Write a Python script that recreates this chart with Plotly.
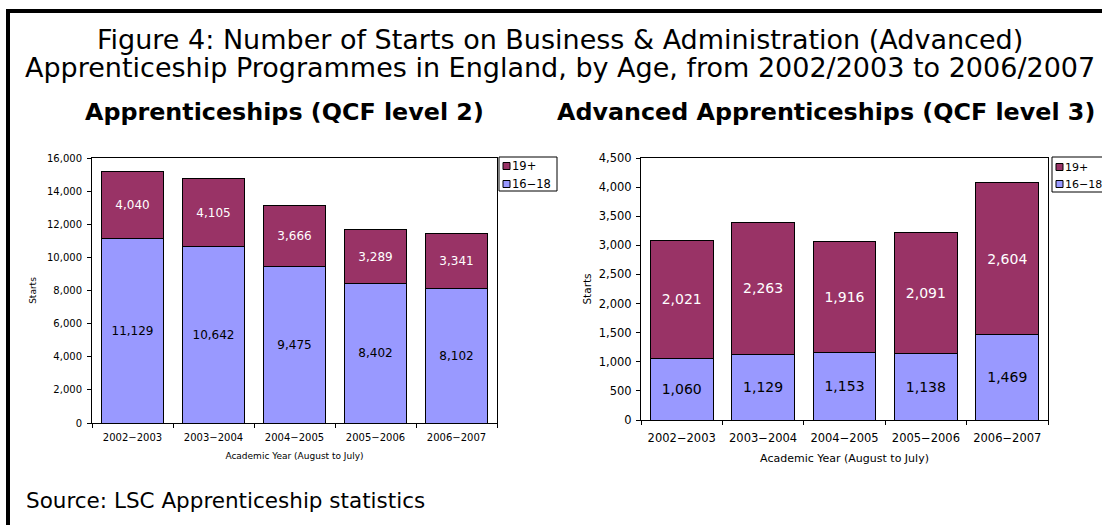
import plotly.graph_objects as go

years = ["2002\u22122003", "2003\u22122004", "2004\u22122005", "2005\u22122006", "2006\u22122007"]
l2_16_18 = [11129, 10642, 9475, 8402, 8102]
l2_19plus = [4040, 4105, 3666, 3289, 3341]
l3_16_18 = [1060, 1129, 1153, 1138, 1469]
l3_19plus = [2021, 2263, 1916, 2091, 2604]
legend_names = ["19+", "16\u221218"]

C_YOUNG = "#9999FF"
C_OLD = "#993366"
FONT = "DejaVu Sans"
W, H = 1102, 525

def fx(px):
    return px / W

def fy(py):
    return 1 - py / H

fig = go.Figure()

def add_pair(young, old, xa, ya, fs):
    fig.add_trace(go.Bar(
        x=years, y=young, name=legend_names[1], marker=dict(color=C_YOUNG, line=dict(color="black", width=1)),
        text=[f"{v:,}" for v in young], textposition="inside", insidetextanchor="middle",
        textfont=dict(color="black", size=fs, family=FONT), xaxis=xa, yaxis=ya,
        width=0.77, constraintext="none", showlegend=False))
    fig.add_trace(go.Bar(
        x=years, y=old, name=legend_names[0], marker=dict(color=C_OLD, line=dict(color="black", width=1)),
        text=[f"{v:,}" for v in old], textposition="inside", insidetextanchor="middle",
        textfont=dict(color="white", size=fs, family=FONT), xaxis=xa, yaxis=ya,
        width=0.77, constraintext="none", showlegend=False))

add_pair(l2_16_18, l2_19plus, "x", "y", 12)
add_pair(l3_16_18, l3_19plus, "x2", "y2", 14)

def axis_style(fs, standoff):
    return dict(showline=True, linecolor="black", linewidth=1, mirror=True,
                ticks="outside", ticklen=4, tickcolor="black",
                tickfont=dict(family=FONT, size=fs, color="black"), ticklabelstandoff=standoff,
                showgrid=False, zeroline=False)

fig.update_layout(
    width=W, height=H, margin=dict(l=0, r=0, t=0, b=0, autoexpand=False),
    paper_bgcolor="white", plot_bgcolor="white",
    barmode="stack", showlegend=False,
    xaxis=dict(domain=[fx(92), fx(497)], anchor="y", tickson="boundaries",
               title=dict(text="Academic Year (August to July)", font=dict(family=FONT, size=9, color="black"), standoff=10),
               **axis_style(10, 5)),
    yaxis=dict(domain=[fy(423), fy(158)], anchor="x", range=[0, 16000], dtick=2000, tickformat=",",
               title=dict(text="Starts", font=dict(family=FONT, size=9, color="black"), standoff=8),
               **axis_style(10, 3)),
    xaxis2=dict(domain=[fx(641), fx(1048)], anchor="y2", tickson="boundaries",
                title=dict(text="Academic Year (August to July)", font=dict(family=FONT, size=11, color="black"), standoff=10),
                **axis_style(11.5, 7)),
    yaxis2=dict(domain=[fy(420), fy(158)], anchor="x2", range=[0, 4500], dtick=500, tickformat=",",
                title=dict(text="Starts", font=dict(family=FONT, size=10.5, color="black"), standoff=5),
                **axis_style(11.5, 2)),
)

annos = [
    ("Figure 4: Number of Starts on Business & Administration (Advanced)", 560, 40, 27),
    ("Apprenticeship Programmes in England, by Age, from 2002/2003 to 2006/2007", 560, 67, 27),
    ("<b>Apprenticeships (QCF level 2)</b>", 284, 112, 23.8),
    ("<b>Advanced Apprenticeships (QCF level 3)</b>", 826, 112, 23.8),
]
for text, x, y, size in annos:
    fig.add_annotation(text=text, x=fx(x), y=fy(y), xref="paper", yref="paper",
                       xanchor="center", yanchor="middle", showarrow=False,
                       font=dict(family=FONT, size=size, color="black"))
fig.add_annotation(text="Source: LSC Apprenticeship statistics", x=fx(24), y=fy(500), xref="paper", yref="paper",
                   xanchor="left", yanchor="middle", showarrow=False,
                   font=dict(family=FONT, size=21.5, color="black"))

# manual legends (compact, like the original)
def draw_legend(x0, x1, y0, y1, sq_x, txt_x, rows_y, fs, right_edge=True):
    if right_edge:
        fig.add_shape(type="rect", xref="paper", yref="paper", x0=fx(x0), x1=fx(x1), y0=fy(y1), y1=fy(y0),
                      line=dict(color="black", width=1), fillcolor="white", layer="above")
    else:
        for (ax0, ay0, ax1, ay1) in [(x0, y0, x1, y0), (x0, y0, x0, y1), (x0, y1, x1, y1)]:
            fig.add_shape(type="line", xref="paper", yref="paper", x0=fx(ax0), x1=fx(ax1), y0=fy(ay0), y1=fy(ay1),
                          line=dict(color="black", width=1))
    for name, col, ry in zip(legend_names, [C_OLD, C_YOUNG], rows_y):
        fig.add_shape(type="rect", xref="paper", yref="paper", x0=fx(sq_x), x1=fx(sq_x + 7),
                      y0=fy(ry + 3.5), y1=fy(ry - 3.5), line=dict(color="black", width=1), fillcolor=col)
        fig.add_annotation(text=name, x=fx(txt_x), y=fy(ry), xref="paper", yref="paper",
                           xanchor="left", yanchor="middle", showarrow=False,
                           font=dict(family=FONT, size=fs, color="black"))

draw_legend(499, 557, 157, 191, 503, 510, [166, 184], 11.5)
draw_legend(1052, 1102, 157, 192, 1056, 1063, [167, 184], 11, right_edge=False)

# page frame lines (top and left)
fig.add_shape(type="line", xref="paper", yref="paper", x0=fx(8), x1=1, y0=fy(11), y1=fy(11),
              line=dict(color="black", width=4))
fig.add_shape(type="line", xref="paper", yref="paper", x0=fx(8), x1=fx(8), y0=0, y1=fy(9),
              line=dict(color="black", width=4))

fig.write_html("out.html")
